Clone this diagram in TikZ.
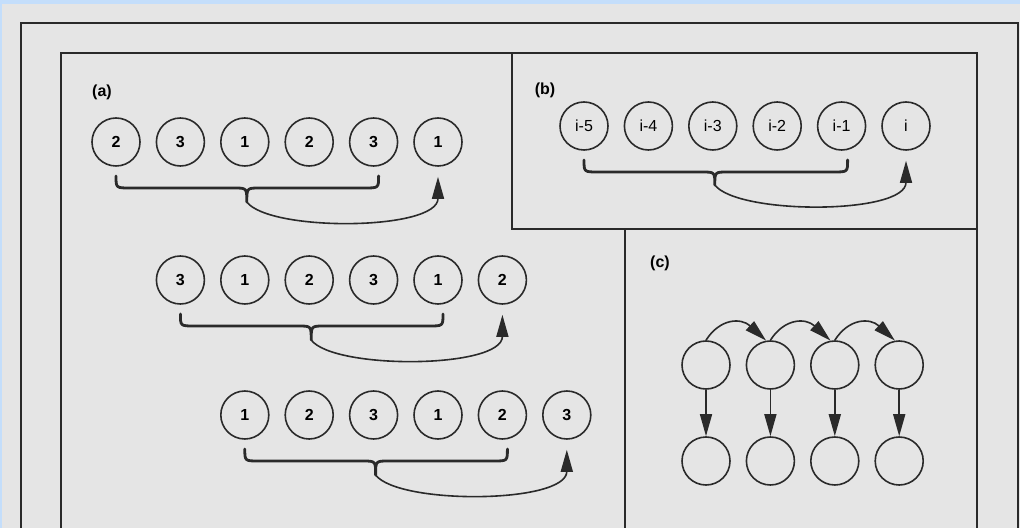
\documentclass[tikz,border=0pt]{standalone}
\usepackage{fontspec}
\setmainfont{Liberation Sans}
\usepackage{xcolor}
\usepackage{tikz}
\usetikzlibrary{shapes.geometric, arrows.meta, calc}
\definecolor{paper}{HTML}{E5E5E5}
\definecolor{scan}{HTML}{C4DEFB}
\definecolor{ink}{HTML}{2A2A2A}
\tikzstyle{state} = [circle, minimum size=24pt, inner sep=0pt, text centered, draw=ink, line width=0.8pt, font=\fontsize{8}{9}\selectfont\bfseries]
\tikzstyle{lag} = [state, font=\fontsize{8}{9}\selectfont]
\tikzstyle{tag} = [font=\fontsize{8}{9}\selectfont\bfseries]
\tikzstyle{frame} = [draw=ink, line width=0.9pt]
\tikzset{brace/.style={draw=ink, line width=1.4pt, line join=round, line cap=round}}
\tikzset{arw/.style={-{Triangle[length=11pt,width=6pt]}, draw=ink, line width=0.8pt}}

\begin{document}
\begin{tikzpicture}[x=0.5pt, y=-0.5pt, node distance=32.2pt]
			\useasboundingbox (0,0) rectangle (1020,528);
			\clip (0,0) rectangle (1020,528);
			\fill[scan] (0,0) rectangle (1020,528);
			\fill[paper] (2,4) rectangle (1020,528);
			
			% frames
			\draw[frame] (21,540) -- (21,23) -- (1018,23) -- (1018,540);
			\draw[frame] (61,540) -- (61,53) -- (977,53) -- (977,540);
			\draw[frame] (512,53) -- (512,229) -- (977,229);
			\draw[frame] (625,229) -- (625,540);
			
			\node (la) [tag] at (102,92) {(a)};
			\node (lb) [tag] at (545,90) {(b)};
			\node (lc) [tag] at (660,263) {(c)};
			
			% (a)
			\node (a11) [state] at (116,142) {2};
			\node (a12) [state, right of=a11] {3};
			\node (a13) [state, right of=a12] {1};
			\node (a14) [state, right of=a13] {2};
			\node (a15) [state, right of=a14] {3};
			\node (a16) [state, right of=a15] {1};
			
			\node (a21) [state] at (180.4,280) {3};
			\node (a22) [state, right of=a21] {1};
			\node (a23) [state, right of=a22] {2};
			\node (a24) [state, right of=a23] {3};
			\node (a25) [state, right of=a24] {1};
			\node (a26) [state, right of=a25] {2};
			
			\node (a31) [state] at (244.8,415) {1};
			\node (a32) [state, right of=a31] {2};
			\node (a33) [state, right of=a32] {3};
			\node (a34) [state, right of=a33] {1};
			\node (a35) [state, right of=a34] {2};
			\node (a36) [state, right of=a35] {3};
			
			% (b)
			\node (b1) [lag] at (584,126) {i-5};
			\node (b2) [lag, right of=b1] {i-4};
			\node (b3) [lag, right of=b2] {i-3};
			\node (b4) [lag, right of=b3] {i-2};
			\node (b5) [lag, right of=b4] {i-1};
			\node (b6) [lag, right of=b5] {i};
			
			% (c)
			\node (c11) [state] at (706,365) {};
			\node (c12) [state, right of=c11] {};
			\node (c13) [state, right of=c12] {};
			\node (c14) [state, right of=c13] {};
			\node (c21) [state, below of=c11, node distance=48pt] {};
			\node (c22) [state, below of=c12, node distance=48pt] {};
			\node (c23) [state, below of=c13, node distance=48pt] {};
			\node (c24) [state, below of=c14, node distance=48pt] {};
			
			\coordinate (ta1) at ($(a13)+(2,60)$);
			\coordinate (ta2) at ($(a23)+(2,60)$);
			\coordinate (ta3) at ($(a33)+(2,60)$);
			\coordinate (tb) at ($(b3)+(2,59)$);
			
			\draw[brace] ($(a11)+(0,34)$) .. controls ($(a11)+(0,46)$) .. ($(a11)+(14,46)$) -- ($(ta1)+(-13,-14)$) .. controls ($(ta1)+(0,-14)$) .. (ta1)
			.. controls ($(ta1)+(0,-14)$) .. ($(ta1)+(13,-14)$) -- ($(a15)+(-9,46)$) .. controls ($(a15)+(5,46)$) .. ($(a15)+(5,34)$);
			\draw[brace] ($(a21)+(0,34)$) .. controls ($(a21)+(0,46)$) .. ($(a21)+(14,46)$) -- ($(ta2)+(-13,-14)$) .. controls ($(ta2)+(0,-14)$) .. (ta2)
			.. controls ($(ta2)+(0,-14)$) .. ($(ta2)+(13,-14)$) -- ($(a25)+(-9,46)$) .. controls ($(a25)+(5,46)$) .. ($(a25)+(5,34)$);
			\draw[brace] ($(a31)+(0,34)$) .. controls ($(a31)+(0,46)$) .. ($(a31)+(14,46)$) -- ($(ta3)+(-13,-14)$) .. controls ($(ta3)+(0,-14)$) .. (ta3)
			.. controls ($(ta3)+(0,-14)$) .. ($(ta3)+(13,-14)$) -- ($(a35)+(-9,46)$) .. controls ($(a35)+(5,46)$) .. ($(a35)+(5,34)$);
			\draw[brace] ($(b1)+(0,34)$) .. controls ($(b1)+(0,46)$) .. ($(b1)+(14,46)$) -- ($(tb)+(-13,-13)$) .. controls ($(tb)+(0,-13)$) .. (tb)
			.. controls ($(tb)+(0,-13)$) .. ($(tb)+(13,-13)$) -- ($(b5)+(-8,46)$) .. controls ($(b5)+(6,46)$) .. ($(b5)+(6,34)$);
			
			\draw [arw, shorten >=5pt] (ta1) .. controls ($(ta1)+(23,30)$) and ($(a16.south)+(0,64)$) .. (a16.south);
			\draw [arw, shorten >=5pt] (ta2) .. controls ($(ta2)+(23,30)$) and ($(a26.south)+(0,64)$) .. (a26.south);
			\draw [arw, shorten >=5pt] (ta3) .. controls ($(ta3)+(23,30)$) and ($(a36.south)+(0,64)$) .. (a36.south);
			\draw [arw, shorten >=5pt] (tb) .. controls ($(tb)+(23,30)$) and ($(b6.south)+(0,64)$) .. (b6.south);
			
			\draw [arw] (c11) -- (c21);
			\draw [arw] (c12) -- (c22);
			\draw [arw] (c13) -- (c23);
			\draw [arw] (c14) -- (c24);
			\draw [arw] (c11.north) .. controls +(14,-22) and +(-25,-23) .. (c12.100);
			\draw [arw] (c12.north) .. controls +(14,-22) and +(-25,-23) .. (c13.100);
			\draw [arw] (c13.north) .. controls +(14,-22) and +(-25,-23) .. (c14.100);
			
			
			\end{tikzpicture}
\end{document}
